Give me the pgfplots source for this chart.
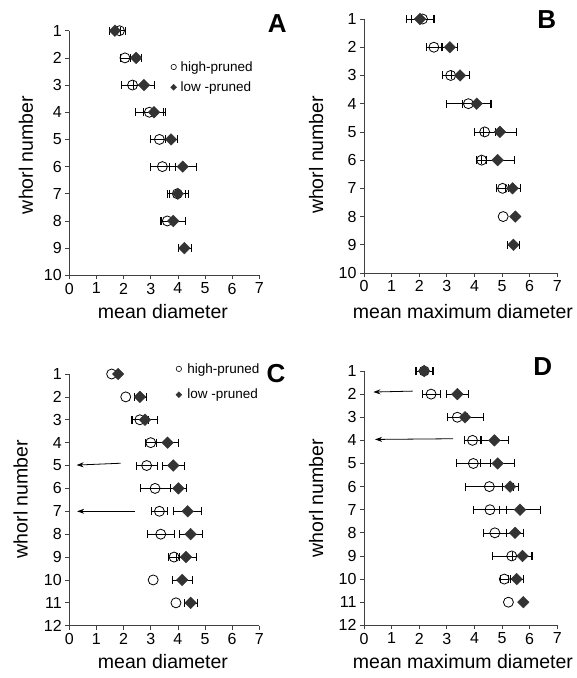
\documentclass[border=0pt]{standalone}
\usepackage{pgfplots}
\pgfplotsset{compat=1.18}
\usepackage{fontspec}
\setmainfont{Liberation Sans}
\usetikzlibrary{arrows.meta}
\definecolor{dgray}{HTML}{333333}

\pgfplotsset{
 panel/.style={
   scale only axis, axis lines=left,
   axis line style={-, black!75, line width=0.7pt},
   tick style={black!75, line width=0.7pt},
   tick align=outside, major tick length=4pt,
   xmin=0, xmax=7, xtick={0,...,7},
   ticklabel style={font=\fontsize{16}{16}\selectfont},
   /pgf/number format/assume math mode=true,
   label style={font=\fontsize{19.5}{20}\selectfont, anchor=center},
   clip=false,
   legend image code/.code={\draw[##1] plot coordinates {(0pt,0pt)};},
   legend cell align=left,
 },
 hp/.style={only marks, mark=o, mark size=5pt, black, mark options={line width=0.8pt, fill=none}, forget plot,
   error bars/.cd, x dir=both, x explicit, error bar style={line width=0.6pt, black},
   error mark=-, error mark options={rotate=90, mark size=4pt, line width=0.6pt, black}},
 hpn/.style={only marks, mark=o, mark size=5pt, black, mark options={line width=0.8pt, fill=none}, forget plot},
 lp/.style={only marks, mark=square*, mark size=4.1pt, mark options={rotate=45, fill=dgray, draw=dgray}, forget plot,
   error bars/.cd, x dir=both, x explicit, error bar style={line width=0.6pt, black},
   error mark=-, error mark options={rotate=90, mark size=4pt, line width=0.6pt, black}},
 lpn/.style={only marks, mark=square*, mark size=4.1pt, mark options={rotate=45, fill=dgray, draw=dgray}, forget plot},
 arr/.style={black, line width=0.8pt, -{Stealth[length=7pt,width=5pt]}, forget plot},
}

\begin{document}
\begin{tikzpicture}
\useasboundingbox (0pt,0pt) rectangle (577pt,-678pt);

% ---------------- Panel A ----------------
\begin{axis}[panel, at={(69.3pt,-275.3pt)}, anchor=south west,
  width=190pt, height=244.6pt, ymin=-10, ymax=-1,
  ytick={-10,...,-1}, yticklabels={10,9,8,7,6,5,4,3,2,1},
  xlabel={mean diameter}, ylabel={whorl number},
  xlabel style={at={(axis description cs:0.493,-0.15)}},
  ylabel style={at={(axis description cs:-0.228,0.492)}},
  legend style={draw=none, fill=none, at={(axis cs:3.73,-2.12)}, anchor=north west,
    font=\fontsize{13.5}{14}\selectfont, row sep=9pt, column sep=4pt, inner sep=0pt, nodes={inner sep=0pt}},
]
\addlegendimage{only marks, mark=o, mark size=2.7pt, black, mark options={line width=0.6pt}}
\addlegendimage{only marks, mark=square*, mark size=2.1pt, mark options={rotate=45, fill=dgray, draw=dgray}}
\legend{high-pruned, low -pruned}
\addplot[hp] coordinates {
 (1.85,-1) +- (0.20,0)
 (2.05,-2) +- (0.18,0)
 (2.33,-3) +- (0.40,0)
 (2.95,-4) +- (0.53,0)
 (3.32,-5) +- (0.35,0)
 (3.43,-6) +- (0.46,0)
 (3.98,-7) +- (0.30,0)
 (3.61,-8) +- (0.27,0)
};
\addplot[lp] coordinates {
 (1.68,-1) +- (0.20,0)
 (2.46,-2) +- (0.20,0)
 (2.75,-3) +- (0.38,0)
 (3.12,-4) +- (0.40,0)
 (3.75,-5) +- (0.23,0)
 (4.18,-6) +- (0.49,0)
 (4.00,-7) +- (0.38,0)
 (3.83,-8) +- (0.43,0)
 (4.24,-9) +- (0.24,0)
};
\end{axis}

% ---------------- Panel B ----------------
\begin{axis}[panel, at={(364pt,-273pt)}, anchor=south west,
  width=193.3pt, height=254pt, ymin=-10, ymax=-1,
  ytick={-10,...,-1}, yticklabels={10,9,8,7,6,5,4,3,2,1},
  xlabel={mean maximum diameter}, ylabel={whorl number},
  xlabel style={at={(axis description cs:0.512,-0.152)}},
  ylabel style={at={(axis description cs:-0.248,0.465)}},
]
\addplot[hp] coordinates {
 (2.12,-1) +- (0.42,0)
 (2.53,-2) +- (0.26,0)
 (3.14,-3) +- (0.32,0)
 (3.78,-4) +- (0.79,0)
 (4.37,-5) +- (0.39,0)
 (4.26,-6) +- (0.18,0)
 (5.02,-7) +- (0.22,0)
};
\addplot[hpn] coordinates {(5.04,-8)};
\addplot[lp] coordinates {
 (2.03,-1) +- (0.49,0)
 (3.11,-2) +- (0.27,0)
 (3.48,-3) +- (0.33,0)
 (4.08,-4) +- (0.53,0)
 (4.92,-5) +- (0.61,0)
 (4.84,-6) +- (0.59,0)
 (5.38,-7) +- (0.27,0)
 (5.41,-9) +- (0.21,0)
};
\addplot[lpn] coordinates {(5.48,-8)};
\end{axis}

% ---------------- Panel C ----------------
\begin{axis}[panel, at={(69.3pt,-625.7pt)}, anchor=south west,
  width=190pt, height=251.7pt, ymin=-12, ymax=-1,
  ytick={-12,...,-1}, yticklabels={12,11,10,9,8,7,6,5,4,3,2,1},
  xlabel={mean diameter}, ylabel={whorl number},
  xlabel style={at={(axis description cs:0.493,-0.143)}},
  ylabel style={at={(axis description cs:-0.256,0.503)}},
  legend style={draw=none, fill=none, at={(axis cs:3.92,-0.52)}, anchor=north west,
    font=\fontsize{13.5}{14}\selectfont, row sep=14.5pt, column sep=5.5pt, inner sep=0pt, nodes={inner sep=0pt}},
]
\addlegendimage{only marks, mark=o, mark size=2.7pt, black, mark options={line width=0.6pt}}
\addlegendimage{only marks, mark=square*, mark size=2.1pt, mark options={rotate=45, fill=dgray, draw=dgray}}
\legend{high-pruned, low -pruned}
\addplot[arr] coordinates {(1.89,-4.9) (0.27,-4.98)};
\addplot[arr] coordinates {(2.42,-7) (0.29,-7)};
\addplot[hp] coordinates {
 (2.60,-3) +- (0.30,0)
 (3.00,-4) +- (0.20,0)
 (2.85,-5) +- (0.38,0)
 (3.16,-6) +- (0.56,0)
 (3.32,-7) +- (0.29,0)
 (3.37,-8) +- (0.50,0)
 (3.86,-9) +- (0.20,0)
};
\addplot[hpn] coordinates {(1.56,-1) (2.08,-2) (3.09,-10) (3.93,-11)};
\addplot[lp] coordinates {
 (2.60,-2) +- (0.22,0)
 (2.79,-3) +- (0.46,0)
 (3.62,-4) +- (0.40,0)
 (3.83,-5) +- (0.42,0)
 (4.02,-6) +- (0.30,0)
 (4.36,-7) +- (0.52,0)
 (4.47,-8) +- (0.42,0)
 (4.30,-9) +- (0.37,0)
 (4.16,-10) +- (0.38,0)
 (4.47,-11) +- (0.23,0)
};
\addplot[lpn] coordinates {(1.80,-1)};
\end{axis}

% ---------------- Panel D ----------------
\begin{axis}[panel, at={(364pt,-625.3pt)}, anchor=south west,
  width=193.3pt, height=254.3pt, ymin=-12, ymax=-1,
  ytick={-12,...,-1}, yticklabels={12,11,10,9,8,7,6,5,4,3,2,1},
  xlabel={mean maximum diameter}, ylabel={whorl number},
  xlabel style={at={(axis description cs:0.512,-0.142)}},
  ylabel style={at={(axis description cs:-0.248,0.5)}},
]
\addplot[arr] coordinates {(1.76,-1.87) (0.34,-1.91)};
\addplot[arr] coordinates {(3.23,-3.93) (0.40,-3.96)};
\addplot[hp] coordinates {
 (2.18,-1) +- (0.33,0)
 (2.43,-2) +- (0.33,0)
 (3.38,-3) +- (0.37,0)
 (3.93,-4) +- (0.30,0)
 (3.96,-5) +- (0.62,0)
 (4.54,-6) +- (0.86,0)
 (4.56,-7) +- (0.60,0)
 (4.74,-8) +- (0.43,0)
 (5.35,-9) +- (0.72,0)
 (5.08,-10) +- (0.15,0)
};
\addplot[hpn] coordinates {(5.23,-11)};
\addplot[lp] coordinates {
 (2.18,-1) +- (0.30,0)
 (3.38,-2) +- (0.40,0)
 (3.66,-3) +- (0.66,0)
 (4.72,-4) +- (0.50,0)
 (4.84,-5) +- (0.62,0)
 (5.29,-6) +- (0.29,0)
 (5.65,-7) +- (0.75,0)
 (5.47,-8) +- (0.30,0)
 (5.74,-9) +- (0.36,0)
 (5.53,-10) +- (0.24,0)
};
\addplot[lpn] coordinates {(5.77,-11)};
\end{axis}

\node[font=\bfseries\fontsize{26}{26}\selectfont] at (277.3pt,-24pt) {A};
\node[font=\bfseries\fontsize{26}{26}\selectfont] at (546.7pt,-20pt) {B};
\node[font=\bfseries\fontsize{26}{26}\selectfont] at (276pt,-373.3pt) {C};
\node[font=\bfseries\fontsize{26}{26}\selectfont] at (542.7pt,-366.7pt) {D};
\end{tikzpicture}
\end{document}
